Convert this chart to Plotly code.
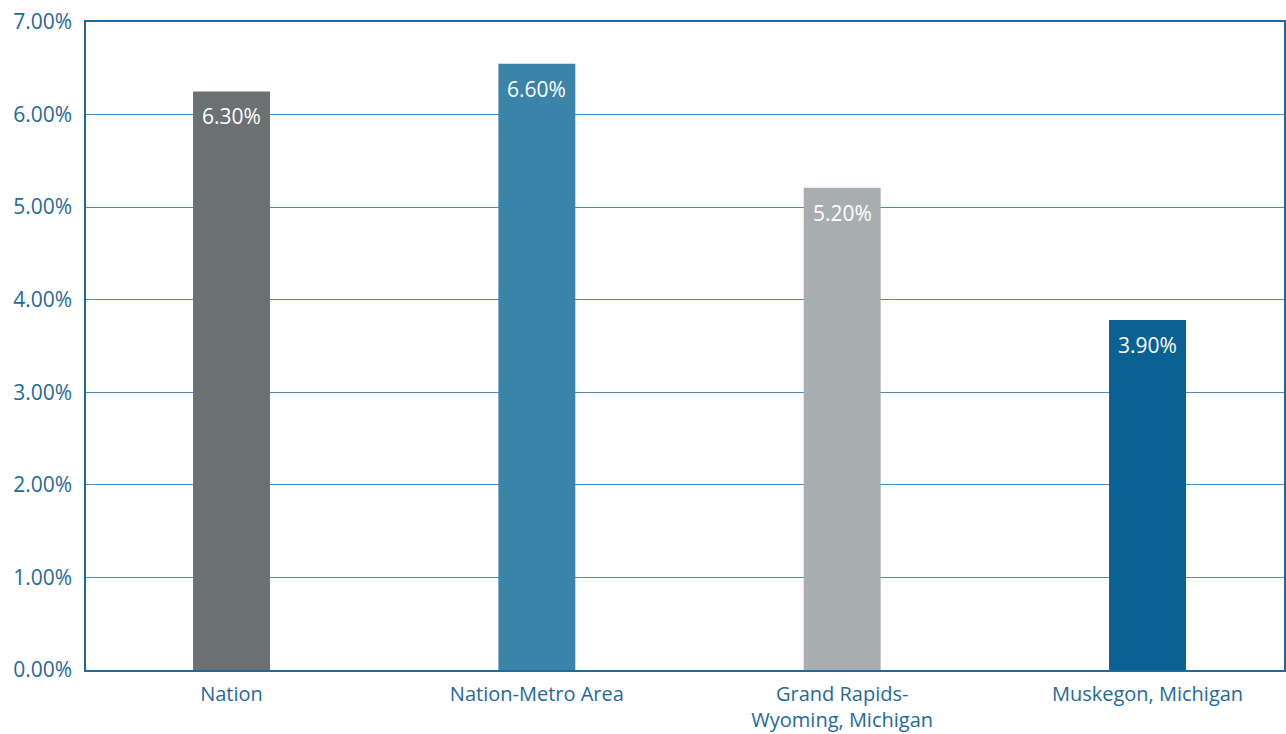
import plotly.graph_objects as go

categories = ["Nation", "Nation-Metro Area", "Grand Rapids-<br>Wyoming, Michigan", "Muskegon, Michigan"]
values = [6.25, 6.55, 5.21, 3.78]
labels = ["6.30%", "6.60%", "5.20%", "3.90%"]
colors = ["#6b7070", "#3a83a9", "#a8adb0", "#0a6194"]
y_ticks = [0, 1, 2, 3, 4, 5, 6, 7]
y_tick_text = ["%.2f%%" % t for t in y_ticks]

FONT = "Open Sans"
BLUE = "#1f6a9c"

fig = go.Figure()
fig.add_trace(go.Bar(
    x=list(range(len(categories))), y=values,
    marker=dict(color=colors, line=dict(width=0)),
    width=0.252, hoverinfo="skip",
))

annotations = []
for i, (v, lab) in enumerate(zip(values, labels)):
    annotations.append(dict(
        x=i, y=v, xref="x", yref="y", text=lab, showarrow=False,
        yanchor="middle", yshift=-25,
        font=dict(family=FONT, size=21, color="white"),
    ))

fig.update_layout(
    width=1286, height=734,
    margin=dict(l=86, r=2, t=22, b=64),
    paper_bgcolor="white", plot_bgcolor="white",
    showlegend=False,
    annotations=annotations,
    font=dict(family=FONT, size=21, color=BLUE),
    xaxis=dict(
        range=[-0.4766, 3.447], automargin=False,
        tickvals=list(range(len(categories))), ticktext=categories,
        showgrid=False, zeroline=False,
        showline=True, mirror=True, linecolor="#1d6a9e", linewidth=1.5,
        ticks="", ticklabelstandoff=5,
        tickfont=dict(family=FONT, size=20, color=BLUE),
    ),
    yaxis=dict(
        range=[0, 7], tickvals=y_ticks, ticktext=y_tick_text, automargin=False,
        showgrid=True, gridcolor="#4b8dbb", gridwidth=1.2,
        zeroline=False,
        showline=True, mirror=True, linecolor="#1d6a9e", linewidth=1.5,
        ticks="", ticklabelstandoff=8,
        tickfont=dict(family=FONT, size=21, color=BLUE),
    ),
)

fig.write_html("out.html")
